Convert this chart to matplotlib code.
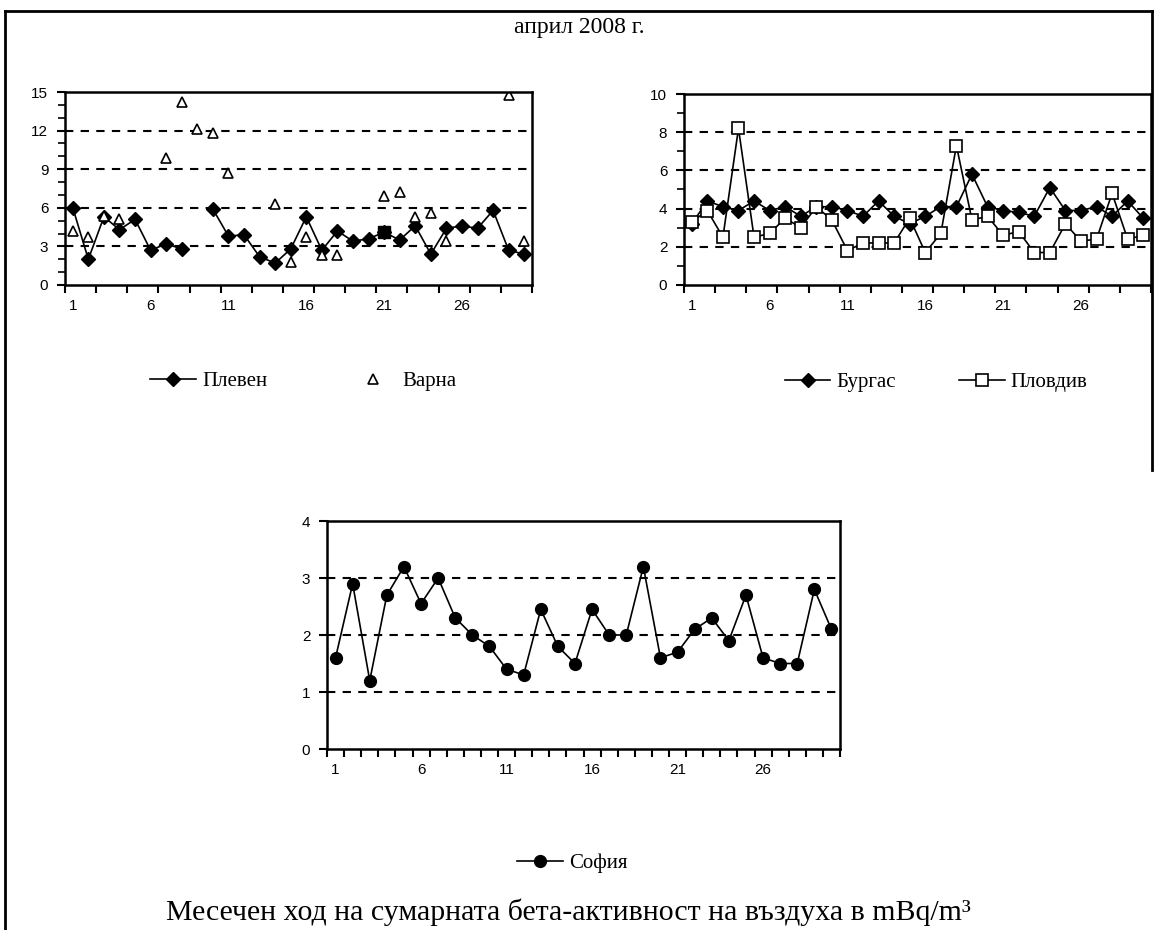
import matplotlib.pyplot as plt
import numpy as np

nan = np.nan
days = np.arange(1, 31)
day_labels = [1, 6, 11, 16, 21, 26]

# Плевен / Варна (mBq/m3)
pleven = np.array([6.0, 2.0, 5.3, 4.3, 5.1, 2.7, 3.2, 2.8, nan, 5.9,
                   3.8, 3.9, 2.2, 1.7, 2.8, 5.3, 2.7, 4.2, 3.4, 3.6,
                   4.1, 3.5, 4.6, 2.4, 4.4, 4.6, 4.4, 5.8, 2.7, 2.4])
varna = np.array([4.2, 3.7, 5.4, 5.1, nan, nan, 9.9, 14.2, 12.1, 11.8,
                  8.7, nan, nan, 6.3, 1.8, 3.7, 2.3, 2.3, nan, nan,
                  6.9, 7.2, 5.3, 5.6, 3.4, nan, nan, nan, 14.8, 3.4])

# Бургас / Пловдив
burgas = np.array([3.2, 4.4, 4.1, 3.9, 4.4, 3.9, 4.1, 3.6, 4.1, 4.1,
                   3.9, 3.6, 4.4, 3.6, 3.2, 3.6, 4.1, 4.1, 5.8, 4.1,
                   3.9, 3.8, 3.6, 5.1, 3.9, 3.9, 4.1, 3.6, 4.4, 3.5])
plovdiv = np.array([3.3, 3.9, 2.5, 8.2, 2.5, 2.7, 3.5, 3.0, 4.1, 3.4,
                    1.8, 2.2, 2.2, 2.2, 3.5, 1.7, 2.7, 7.3, 3.4, 3.6,
                    2.6, 2.8, 1.7, 1.7, 3.2, 2.3, 2.4, 4.8, 2.4, 2.6])

# София
sofia = np.array([1.6, 2.9, 1.2, 2.7, 3.2, 2.55, 3.0, 2.3, 2.0, 1.8,
                  1.4, 1.3, 2.45, 1.8, 1.5, 2.45, 2.0, 2.0, 3.2, 1.6,
                  1.7, 2.1, 2.3, 1.9, 2.7, 1.6, 1.5, 1.5, 2.8, 2.1])

serif = ['Liberation Serif', 'DejaVu Serif']
plt.rcParams['font.family'] = ['Liberation Sans', 'DejaVu Sans']


def style_axis(ax, ymax, ystep, minor_step, tick_every):
    ax.set_xlim(0.5, 30.5)
    ax.set_ylim(0, ymax)
    ax.set_xticks(day_labels)
    ax.set_xticks(np.arange(0.5, 30.6, tick_every), minor=True)
    ax.set_yticks(np.arange(0, ymax + 0.01, ystep))
    if minor_step:
        ax.set_yticks(np.arange(0, ymax + 0.01, minor_step), minor=True)
    ax.tick_params(axis='x', which='major', length=0, pad=10, labelsize=11)
    ax.tick_params(axis='x', which='minor', length=6, width=1.5, direction='out')
    ax.tick_params(axis='y', which='major', length=6, width=1.5, labelsize=11, pad=6)
    ax.tick_params(axis='y', which='minor', length=5, width=1.2)
    for s in ax.spines.values():
        s.set_linewidth(1.8)
    for yv in np.arange(ystep, ymax - 0.01, ystep):
        ax.axhline(yv, color='black', lw=1.5, ls=(0, (4, 3.5)), zorder=0)


fig = plt.figure(figsize=(11.58, 9.3), dpi=100)
leg_font = {'family': serif, 'size': 15}

# Плевен / Варна
ax1 = fig.add_axes([65 / 1158, 1 - 285 / 930, 467 / 1158, 193 / 930])
style_axis(ax1, 15, 3, 1, 2)
ax1.plot(days, pleven, color='black', lw=1.2, marker='D', markersize=7,
         label='Плевен')
ax1.plot(days, varna, ls='none', marker='^', markersize=7, mfc='white',
         mec='black', mew=1.2, label='Варна')
ax1.plot(days[20], pleven[20], 's', color='black', markersize=8)
ax1.legend(loc='center', bbox_to_anchor=(0.51, -0.5), ncol=2, frameon=False,
           prop=leg_font, columnspacing=4,
           handlelength=2.2, handletextpad=0.3)

# Бургас / Пловдив
ax2 = fig.add_axes([684 / 1158, 1 - 285 / 930, 467 / 1158, 191 / 930])
style_axis(ax2, 10, 2, 1, 2)
ax2.plot(days, burgas, color='black', lw=1.2, marker='D', markersize=7,
         label='Бургас')
ax2.plot(days, plovdiv, color='black', lw=1.2, marker='s', markersize=8,
         mfc='white', mec='black', mew=1.2, label='Пловдив')
ax2.legend(loc='center', bbox_to_anchor=(0.54, -0.51), ncol=2, frameon=False,
           prop=leg_font, columnspacing=3,
           handlelength=2.2, handletextpad=0.3)

# София
ax3 = fig.add_axes([327 / 1158, 1 - 749 / 930, 513 / 1158, 228 / 930])
style_axis(ax3, 4, 1, None, 1)
ax3.plot(days, sofia, color='black', lw=1.2, marker='o', markersize=8.5,
         label='София')
ax3.legend(loc='center', bbox_to_anchor=(0.478, -0.5), frameon=False,
           prop=leg_font, handlelength=2.2, handletextpad=0.3)

fig.text(579 / 1158, 1 - 27 / 930, 'април 2008 г.', ha='center', va='center',
         family=serif, fontsize=17)
fig.text(568 / 1158, 1 - 912 / 930,
         'Месечен ход на сумарната бета-активност на въздуха в mBq/m³',
         ha='center', va='center', family=serif, fontsize=21.5)

# outer frame
fig.add_artist(plt.Line2D([5 / 1158, 1152 / 1158], [1 - 11 / 930, 1 - 11 / 930],
                          transform=fig.transFigure, color='black', lw=2))
fig.add_artist(plt.Line2D([5 / 1158, 5 / 1158], [0, 1 - 11 / 930],
                          transform=fig.transFigure, color='black', lw=2))
fig.add_artist(plt.Line2D([1152 / 1158, 1152 / 1158], [1 - 470 / 930, 1 - 11 / 930],
                          transform=fig.transFigure, color='black', lw=2))

fig.savefig('out.png', dpi=100)
